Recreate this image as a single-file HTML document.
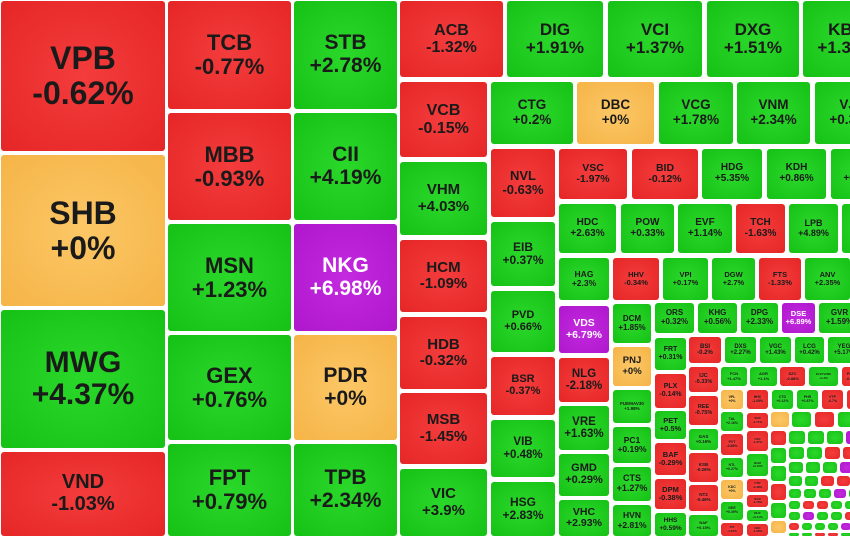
<!DOCTYPE html>
<html><head><meta charset="utf-8"><style>
html,body{margin:0;padding:0;width:850px;height:536px;overflow:hidden;background:#fff;}
.t{position:absolute;box-sizing:border-box;border-radius:3px;display:flex;flex-direction:column;align-items:center;justify-content:center;font-family:"Liberation Sans",Arial,sans-serif;font-weight:bold;color:#1a1a1a;line-height:1.08;text-align:center;overflow:hidden;white-space:nowrap;}
.r{background:radial-gradient(ellipse at center,#f43c3c 0%,#e52626 100%);}
.g{background:radial-gradient(ellipse at center,#2ad82a 0%,#16c116 100%);}
.o{background:radial-gradient(ellipse at center,#fcc766 0%,#f5b447 100%);}
.p{background:radial-gradient(ellipse at center,#c42ae0 0%,#ae17cc 100%);color:#fff;}
.b{background:#3a9be6;}
</style></head><body>
<div id="m"></div>
<script>
var T=[
[0,0,165,151,'r','VPB','-0.62%',32],
[0,154,165,306,'o','SHB','+0%',32],
[0,309,165,448,'g','MWG','+4.37%',30],
[0,451,165,536,'r','VND','-1.03%',20],
[167,0,291,109,'r','TCB','-0.77%',22],
[167,112,291,220,'r','MBB','-0.93%',22],
[167,223,291,331,'g','MSN','+1.23%',22],
[167,334,291,440,'g','GEX','+0.76%',22],
[167,443,291,536,'g','FPT','+0.79%',22],
[293,0,397,109,'g','STB','+2.78%',21],
[293,112,397,220,'g','CII','+4.19%',21],
[293,223,397,331,'p','NKG','+6.98%',21],
[293,334,397,440,'o','PDR','+0%',21],
[293,443,397,536,'g','TPB','+2.34%',21],
[399,0,503,77,'r','ACB','-1.32%',16],
[506,0,603,77,'g','DIG','+1.91%',17],
[607,0,702,77,'g','VCI','+1.37%',17],
[706,0,799,77,'g','DXG','+1.51%',17],
[802,0,890,77,'g','KBC','+1.37%',17],
[399,81,487,157,'r','VCB','-0.15%',16],
[399,161,487,235,'g','VHM','+4.03%',15],
[399,239,487,312,'r','HCM','-1.09%',15],
[399,316,487,389,'r','HDB','-0.32%',15],
[399,392,487,464,'r','MSB','-1.45%',15],
[399,468,487,536,'g','VIC','+3.9%',15],
[490,81,573,144,'g','CTG','+0.2%',13.5],
[576,81,654,144,'o','DBC','+0%',13.5],
[658,81,733,144,'g','VCG','+1.78%',13.5],
[736,81,810,144,'g','VNM','+2.34%',13.5],
[814,81,890,144,'g','VJC','+0.37%',13.5],
[490,148,555,217,'r','NVL','-0.63%',13],
[490,221,555,286,'g','EIB','+0.37%',12],
[490,290,555,352,'g','PVD','+0.66%',11],
[490,356,555,415,'r','BSR','-0.37%',11],
[490,419,555,477,'g','VIB','+0.48%',11.5],
[490,481,555,536,'g','HSG','+2.83%',12],
[558,148,627,199,'r','VSC','-1.97%',10.5],
[631,148,698,199,'r','BID','-0.12%',10.5],
[701,148,762,199,'g','HDG','+5.35%',10],
[766,148,826,199,'g','KDH','+0.86%',10],
[830,148,890,199,'g','SSI','+0.95%',10],
[558,203,616,253,'g','HDC','+2.63%',10],
[620,203,674,253,'g','POW','+0.33%',10],
[677,203,732,253,'g','EVF','+1.14%',10],
[735,203,785,253,'r','TCH','-1.63%',10],
[788,203,838,253,'g','LPB','+4.89%',9],
[841,203,890,253,'g','SHS','+1.2%',9],
[558,257,609,300,'g','HAG','+2.3%',8.5],
[612,257,659,300,'r','HHV','-0.34%',7.5],
[662,257,708,300,'g','VPI','+0.17%',7.5],
[711,257,755,300,'g','DGW','+2.7%',7.5],
[758,257,801,300,'r','FTS','-1.33%',7.5],
[804,257,850,300,'g','ANV','+2.35%',7.5],
[558,305,609,353,'p','VDS','+6.79%',10.5],
[558,357,609,402,'r','NLG','-2.18%',11.5],
[558,405,609,450,'g','VRE','+1.63%',11.5],
[558,453,609,496,'g','GMD','+0.29%',11],
[558,499,609,536,'g','VHC','+2.93%',10.5],
[612,303,651,343,'g','DCM','+1.85%',8],
[612,346,651,386,'o','PNJ','+0%',9.5],
[612,389,651,423,'g','FUEMAV30','+1.98%',4.5],
[612,426,651,463,'g','PC1','+0.19%',8.5],
[612,466,651,501,'g','CTS','+1.27%',9],
[612,504,651,536,'g','HVN','+2.81%',8.5],
[654,302,694,333,'g','ORS','+0.32%',8],
[697,302,737,333,'g','KHG','+0.56%',8],
[740,302,778,333,'g','DPG','+2.33%',8],
[781,302,815,333,'p','DSE','+6.89%',7.5],
[818,302,860,333,'g','GVR','+1.59%',8],
[654,337,686,370,'g','FRT','+0.31%',7],
[654,373,686,408,'r','PLX','-0.14%',7],
[654,410,686,439,'g','PET','+0.5%',7.5],
[654,442,686,475,'r','BAF','-0.29%',7.5],
[654,478,686,509,'r','DPM','-0.38%',7.5],
[654,512,686,536,'g','HHS','+0.59%',6.5],
[688,336,721,363,'r','BSI','-0.2%',6],
[724,336,756,363,'g','DXS','+2.27%',6],
[759,336,791,363,'g','VGC','+1.43%',6],
[794,336,824,363,'g','LCG','+0.42%',6],
[827,336,860,363,'g','YEG','+5.17%',6],
[688,366,718,392,'r','IJC','-0.33%',5.5],
[688,395,718,425,'r','REE','-0.75%',5.5],
[688,428,718,450,'g','GAS','+0.16%',4.5],
[688,452,718,482,'r','KSB','-0.26%',4.5],
[688,484,718,511,'r','NT2','-0.46%',4.5],
[688,514,718,536,'g','NAF','+0.15%',4],
[720,366,747,386,'g','FCN','+1.47%',4],
[749,366,777,386,'g','AGR','+1.1%',4],
[779,366,805,386,'r','SZC','-0.88%',4],
[808,366,838,386,'g','E1VFVN30','+1.2%',3],
[841,366,860,386,'r','PAN','-0.5%',4],
[720,389,743,409,'o','VPL','+0%',3.5],
[746,389,768,409,'r','HHC','-1.05%',3.5],
[771,389,793,409,'g','CTD','+0.12%',3.5],
[796,389,818,409,'g','PHR','+0.87%',3.5],
[821,389,843,409,'r','VTP','-0.7%',3.5],
[846,389,860,409,'r','',''],
[720,411,743,431,'g','TAL','+2.16%',3.5],
[720,433,743,455,'r','PVT','-0.86%',3.5],
[720,457,743,477,'g','NTL','+0.27%',3.5],
[720,479,743,499,'o','KDC','+0%',3.5],
[720,501,743,520,'g','GEE','+0.39%',3.5],
[720,522,743,536,'r','TCI','-1.67%',3],
[746,412,768,428,'r','SCR','-1.71%',3],
[746,430,768,451,'r','CSC','-1.37%',3],
[746,453,768,476,'g','BCM','+0.15%',3],
[746,478,768,492,'r','CTR','-0.48%',3],
[746,494,768,507,'r','SGR','-1.79%',3],
[746,509,768,521,'g','DHC','+0.41%',3],
[746,523,768,536,'r','HSC','-1.08%',3],
[770,411,789,427,'o','CRG','+0%',0],
[791,411,811,427,'g','',''],
[814,411,834,427,'r','',''],
[837,411,860,427,'g','',''],
[770,430,786,445,'r','',''],
[770,447,786,463,'g','',''],
[770,465,786,481,'g','',''],
[770,483,786,500,'r','',''],
[770,502,786,518,'g','',''],
[770,520,786,533,'o','',''],
];
var cols=['g','r','g','g','r','o','g','r','g','p','g','r','g','b','r','g','o','g','r','g','p','r','g','o'];
var k=0;
var y=430;var hs=[14,13,12,11,10,9,9,8,8];
for(var i=0;i<hs.length&&y<536;i++){var x=788;var w=hs[i]+3;while(x<850){T.push([x,y,x+w,Math.min(536,y+hs[i]),cols[k%cols.length],'','']);k+=3;x+=w+2;}y+=hs[i]+2;}
var h='';
T.forEach(function(a){var fs=a[7]||0;var inner=fs>=3?a[5]+'<br>'+a[6]:'';
h+='<div class="t '+a[4]+'" style="left:'+(a[0]+1)+'px;top:'+(a[1]+1)+'px;width:'+(a[2]-a[0]-1)+'px;height:'+(a[3]-a[1]-1)+'px;font-size:'+fs+'px">'+'<div>'+inner+'</div></div>';});
document.getElementById('m').innerHTML=h;
</script>
</body></html>
